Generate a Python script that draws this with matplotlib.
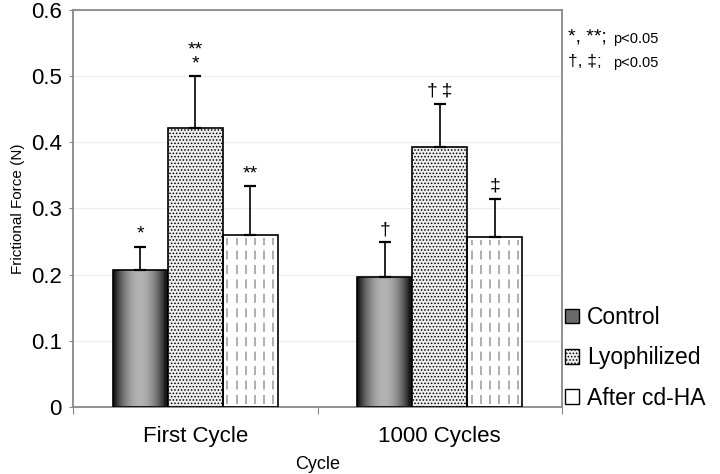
import numpy as np
import matplotlib.pyplot as plt
from matplotlib.patches import Patch

plt.rcParams['font.family'] = ['Liberation Sans', 'DejaVu Sans']

# data
cycles = ['First Cycle', '1000 Cycles']
groups = ['Control', 'Lyophilized', 'After cd-HA']
means = {
    'Control': [0.207, 0.196],
    'Lyophilized': [0.422, 0.393],
    'After cd-HA': [0.260, 0.257],
}
errs = {
    'Control': [0.035, 0.053],
    'Lyophilized': [0.078, 0.065],
    'After cd-HA': [0.074, 0.058],
}
marks = {
    'Control': ['*', '\u2020'],
    'Lyophilized': ['**\n*', '\u2020\u2009\u2021'],
    'After cd-HA': ['**', '\u2021'],
}

fig = plt.figure(figsize=(7.2, 4.74), dpi=100)
ax = fig.add_axes([73 / 720, 67 / 474, 489 / 720, 397 / 474])

width = 0.225
centers = np.arange(len(cycles)) + 0.5
offsets = [-width, 0, width]

# cylinder-like shading for control bars
xs = np.linspace(0, 1, 64)
shade = 0.1 + 0.6 * np.sin(np.pi * np.clip(xs * 1.1 - 0.03, 0, 1)) ** 0.8

plt.rcParams['hatch.color'] = '#c6c6c6'
plt.rcParams['hatch.linewidth'] = 0.7

for g, off in zip(groups, offsets):
    xpos = centers + off
    vals = means[g]
    if g == 'Control':
        bars = ax.bar(xpos, vals, width, color='none', edgecolor='black', lw=1.2, zorder=3)
        for b in bars:
            x0, y0, w, h = b.get_x(), b.get_y(), b.get_width(), b.get_height()
            im = ax.imshow(shade[None, :], cmap='gray', vmin=0, vmax=1, aspect='auto',
                           extent=[x0, x0 + w, y0, y0 + h], zorder=2)
            im.set_clip_path(b)
    elif g == 'Lyophilized':
        bars = ax.bar(xpos, vals, width, color='#efefef', edgecolor='black', lw=1.2,
                      hatch='.....', zorder=3)
    else:
        ax.bar(xpos, vals, width, color='white', lw=0, zorder=2)
        bars = ax.bar(xpos, vals, width, color='none', edgecolor='black', lw=1.2, zorder=3)
        for b in bars:
            x0, w, h = b.get_x(), b.get_width(), b.get_height()
            lx = x0 + w * (np.arange(6) + 0.5) / 6
            ax.vlines(lx, 0.004, h - 0.004, colors='#a8a8a8', lw=1.3,
                      linestyles=(0, (5, 3)), zorder=2.5)
    ax.errorbar(xpos, vals, yerr=[np.zeros(len(vals)), errs[g]], fmt='none',
                ecolor='black', elinewidth=1.2, capsize=4.5, capthick=1.6, zorder=4)
    for x, v, e, m in zip(xpos, vals, errs[g], marks[g]):
        ax.text(x, v + e + 0.006, m, ha='center', va='bottom', fontsize=14,
                linespacing=0.75, zorder=5)

ax.set_xlim(0, 2)
ax.set_ylim(0, 0.6)
ax.set_yticks(np.arange(0, 0.61, 0.1))
ax.set_yticklabels(['0', '0.1', '0.2', '0.3', '0.4', '0.5', '0.6'], fontsize=16)
ax.set_xticks([0, 1, 2])
ax.set_xticklabels([])
ax.tick_params(axis='x', length=5, color='#888888', direction='out')
ax.tick_params(axis='y', length=3, color='#888888', direction='out', pad=5)
ax.set_xticks(centers, minor=True)
ax.set_xticklabels(cycles, minor=True, fontsize=16)
ax.tick_params(axis='x', which='minor', length=0, pad=14)
ax.grid(axis='y', color='#eeeeee', lw=1, zorder=0)
ax.set_axisbelow(True)
for s in ax.spines.values():
    s.set_color('#888888')
    s.set_linewidth(1.3)

ax.set_ylabel('Frictional Force (N)', fontsize=11, labelpad=4)
ax.set_xlabel('Cycle', fontsize=13, labelpad=6)

fig.text(568 / 720, 1 - 37 / 474, '*, **;', fontsize=14, va='center')
fig.text(613 / 720, 1 - 39 / 474, 'p<0.05', fontsize=10.5, va='center')
fig.text(568 / 720, 1 - 62 / 474, '\u2020, \u2021;', fontsize=12.5, va='center')
fig.text(613 / 720, 1 - 63 / 474, 'p<0.05', fontsize=10.5, va='center')

handles = [
    Patch(facecolor='#6a6a6a', edgecolor='black', lw=1),
    Patch(facecolor='#efefef', edgecolor='black', lw=1, hatch='.....'),
    Patch(facecolor='white', edgecolor='black', lw=1),
]
fig.legend(handles, groups, loc='upper left', bbox_to_anchor=(565 / 720, 1 - 306 / 474),
           frameon=False, fontsize=16.5, handlelength=0.6, handleheight=0.6,
           handletextpad=0.35, labelspacing=0.76, borderaxespad=0, borderpad=0)

fig.savefig('out.png', dpi=100)
